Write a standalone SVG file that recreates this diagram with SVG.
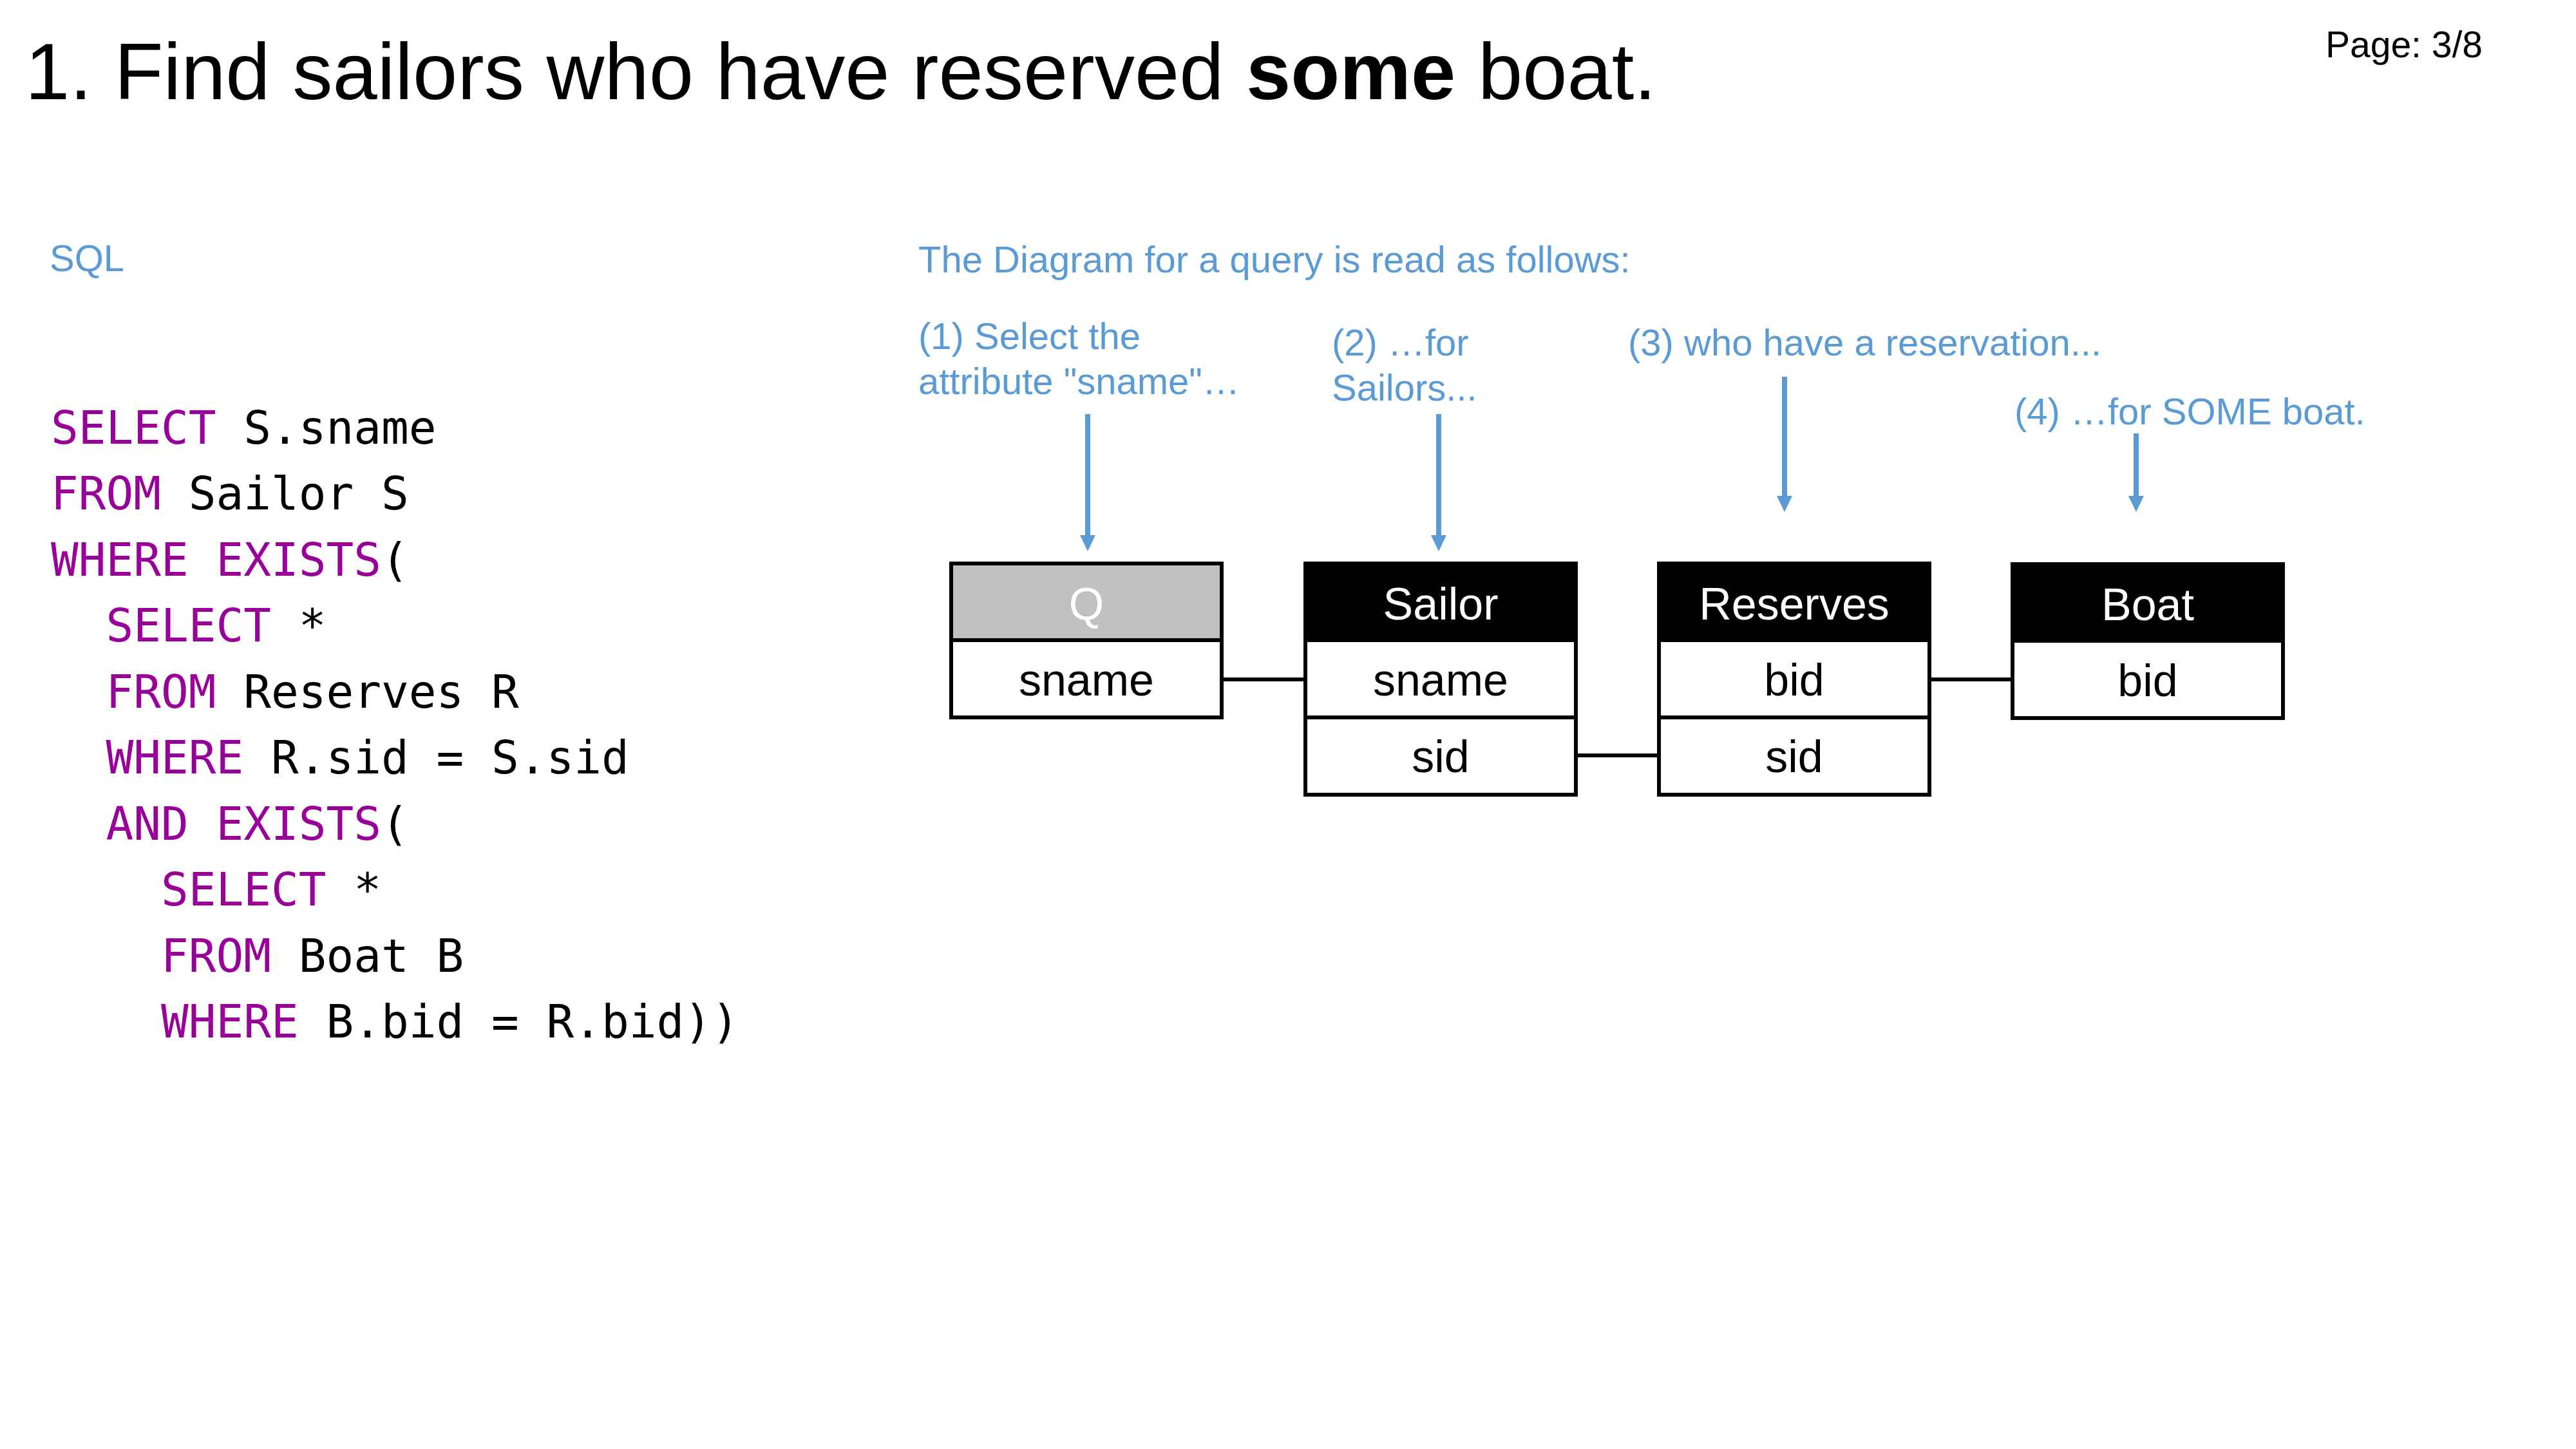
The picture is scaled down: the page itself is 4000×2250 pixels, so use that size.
<svg xmlns="http://www.w3.org/2000/svg" width="4000" height="2250" viewBox="0 0 4000 2250">
  <style>
    .title { font-family: "Liberation Sans", Arial, sans-serif; font-size: 124.5px; fill: #000; }
    .page { font-family: "Liberation Sans", Arial, sans-serif; font-size: 57px; fill: #000; }
    .note { font-family: "Liberation Sans", Arial, sans-serif; font-size: 58px; fill: #5b9bd5; }
    .code { font-family: "DejaVu Sans Mono", "Liberation Mono", monospace; font-size: 71px; fill: #000; }
    .kw { fill: #990099; }
    .box { fill: #fff; stroke: #000; stroke-width: 6; }
    .head { fill: #000; stroke: #000; stroke-width: 6; }
    .head-q { fill: #c0c0c0; stroke: #000; stroke-width: 6; }
    .htext { font-family: "Liberation Sans", Arial, sans-serif; font-size: 70px; fill: #fff; text-anchor: middle; }
    .ftext { font-family: "Liberation Sans", Arial, sans-serif; font-size: 70px; fill: #000; text-anchor: middle; }
    .link { stroke: #000; stroke-width: 6; fill: none; }
    .pointer { stroke: #5b9bd5; stroke-width: 8; fill: none; marker-end: url(#tip); }
  </style>
  <defs>
    <marker id="tip" markerUnits="userSpaceOnUse" markerWidth="25" markerHeight="24" viewBox="0 0 25 24" refX="0" refY="12" orient="auto">
      <path d="M0,0 L25,12 L0,24 Z" fill="#5b9bd5"/>
    </marker>
  </defs>

  <rect width="4000" height="2250" fill="#fff"/>

  <!-- heading -->
  <text class="title" x="39" y="154">1. Find sailors who have reserved <tspan font-weight="bold">some</tspan> boat.</text>
  <text class="page" x="3611" y="89">Page: 3/8</text>

  <!-- SQL listing -->
  <text class="note" x="77" y="421">SQL</text>
  <g id="sql-code" class="code">
    <text x="79" y="689"><tspan class="kw">SELECT</tspan> S.sname</text>
    <text x="79" y="791"><tspan class="kw">FROM</tspan> Sailor S</text>
    <text x="79" y="894"><tspan class="kw">WHERE EXISTS</tspan>(</text>
    <text x="164.5" y="996"><tspan class="kw">SELECT</tspan> *</text>
    <text x="164.5" y="1099"><tspan class="kw">FROM</tspan> Reserves R</text>
    <text x="164.5" y="1201"><tspan class="kw">WHERE</tspan> R.sid = S.sid</text>
    <text x="164.5" y="1304"><tspan class="kw">AND EXISTS</tspan>(</text>
    <text x="250" y="1406"><tspan class="kw">SELECT</tspan> *</text>
    <text x="250" y="1509"><tspan class="kw">FROM</tspan> Boat B</text>
    <text x="250" y="1611"><tspan class="kw">WHERE</tspan> B.bid = R.bid))</text>
  </g>

  <!-- reading guide -->
  <g id="guide" class="note">
    <text x="1426" y="423">The Diagram for a query is read as follows:</text>
    <text x="1426" y="542">(1) Select the</text>
    <text x="1426" y="612">attribute "sname"…</text>
    <text x="2068" y="552">(2) …for</text>
    <text x="2068" y="622">Sailors...</text>
    <text x="2528" y="552">(3) who have a reservation...</text>
    <text x="3128" y="659">(4) …for SOME boat.</text>
  </g>
  <g id="pointers">
    <line class="pointer" x1="1689" y1="643" x2="1689" y2="831"/>
    <line class="pointer" x1="2234" y1="643" x2="2234" y2="831"/>
    <line class="pointer" x1="2771" y1="585" x2="2771" y2="770"/>
    <line class="pointer" x1="3317" y1="673" x2="3317" y2="770"/>
  </g>

  <!-- joins between attributes -->
  <g id="connectors">
    <line class="link" x1="1897" y1="1055" x2="2027" y2="1055"/>
    <line class="link" x1="2447" y1="1173" x2="2576" y2="1173"/>
    <line class="link" x1="2996" y1="1055" x2="3125" y2="1055"/>
  </g>

  <!-- query result -->
  <g id="node-q">
    <rect class="head-q" x="1477" y="875" width="420" height="119"/>
    <rect class="box" x="1477" y="994" width="420" height="120"/>
    <text class="htext" x="1687" y="962">Q</text>
    <text class="ftext" x="1687" y="1080">sname</text>
  </g>

  <g id="node-sailor">
    <rect class="head" x="2027" y="875" width="420" height="119"/>
    <rect class="box" x="2027" y="994" width="420" height="120"/>
    <rect class="box" x="2027" y="1114" width="420" height="120"/>
    <text class="htext" x="2237" y="962">Sailor</text>
    <text class="ftext" x="2237" y="1080">sname</text>
    <text class="ftext" x="2237" y="1199">sid</text>
  </g>

  <g id="node-reserves">
    <rect class="head" x="2576" y="875" width="420" height="119"/>
    <rect class="box" x="2576" y="994" width="420" height="120"/>
    <rect class="box" x="2576" y="1114" width="420" height="120"/>
    <text class="htext" x="2786" y="962">Reserves</text>
    <text class="ftext" x="2786" y="1080">bid</text>
    <text class="ftext" x="2786" y="1199">sid</text>
  </g>

  <g id="node-boat">
    <rect class="head" x="3125" y="876" width="420" height="119"/>
    <rect class="box" x="3125" y="995" width="420" height="120"/>
    <text class="htext" x="3335" y="963">Boat</text>
    <text class="ftext" x="3335" y="1081">bid</text>
  </g>
</svg>
